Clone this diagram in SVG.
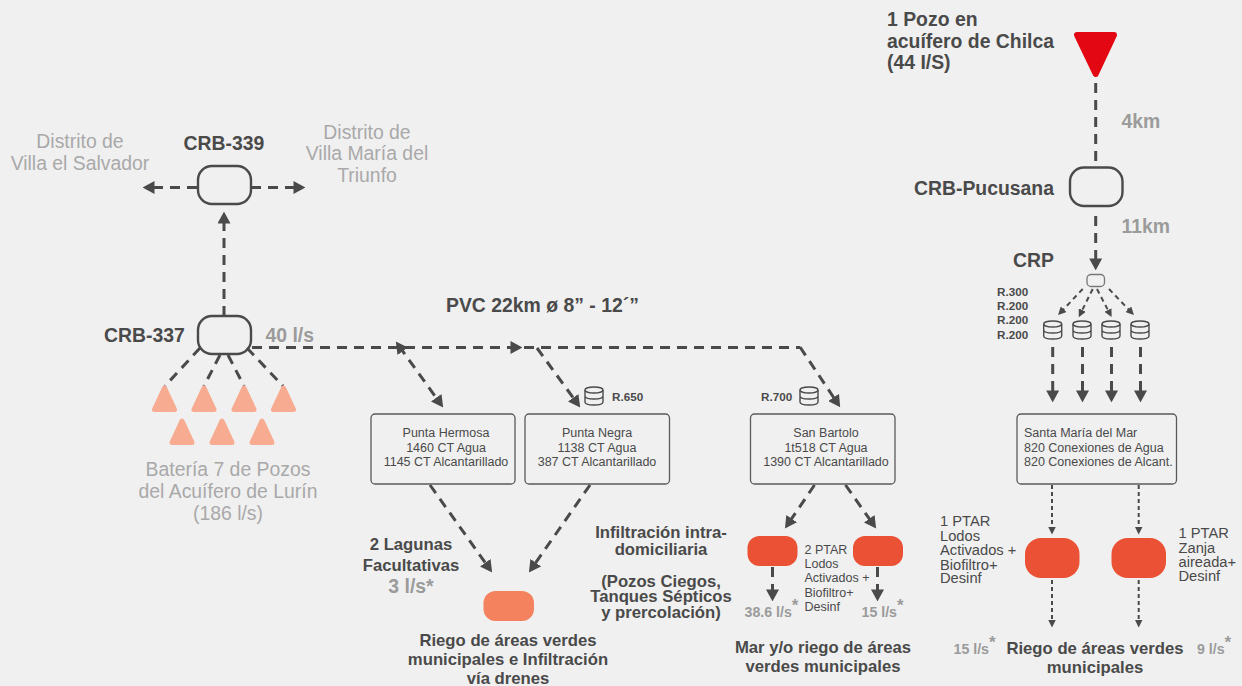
<svg xmlns="http://www.w3.org/2000/svg" width="1242" height="686" viewBox="0 0 1242 686">
<style>
text{font-family:"Liberation Sans",Arial,sans-serif;fill:#4a4a4a}
.b{font-weight:700}
.g{fill:#9b9b9b;font-weight:700}
.lg{fill:#a9a9a9}
.m{text-anchor:middle}
.s19{font-size:19.4px}.s17{font-size:16.7px}.s14{font-size:14.7px}.s13{font-size:14.2px}.s12{font-size:12.5px}.s10{font-size:11.7px}
.crb{fill:none;stroke:#4a4a4a;stroke-width:2.4}
.box{fill:none;stroke:#5a5a5a;stroke-width:1.3}
.c{fill:none;stroke:#4a4a4a}
.t3{stroke-width:3;stroke-dasharray:10 7;marker-end:url(#ah)}
.t3s{stroke-width:3;stroke-dasharray:10 7;marker-start:url(#ah);marker-end:url(#ah)}
.t3n{stroke-width:3;stroke-dasharray:10 7}
.t2{stroke-width:2;stroke-dasharray:5 4;marker-end:url(#as)}
.t1{stroke-width:2;stroke-dasharray:4 3;marker-end:url(#as)}
.cy{fill:none;stroke:#4a4a4a;stroke-width:1.4}
.tri{fill:#f7ac92;stroke:#f7ac92;stroke-width:5;stroke-linejoin:round}
</style>
<defs>
<marker id="ah" markerUnits="userSpaceOnUse" markerWidth="12" markerHeight="13" viewBox="0 0 11 12" refX="6" refY="6" orient="auto-start-reverse"><path d="M0,0L11,6L0,12z" fill="#4a4a4a"/></marker>
<marker id="as" markerUnits="userSpaceOnUse" markerWidth="8" markerHeight="8" viewBox="0 0 8 8" refX="4.5" refY="4" orient="auto"><path d="M0,0L8,4L0,8z" fill="#4a4a4a"/></marker>
<g id="cyl"><ellipse cx="0" cy="-6" rx="9" ry="3" class="cy"/><path class="cy" d="M-9,-6V6C-9,10 9,10 9,6V-6M-9,0C-9,4 9,4 9,0"/></g>
</defs>
<rect width="1242" height="686" fill="#f0f0f0"/>
<g id="connectors">
<path class="c t3" d="M197,187.5H148"/>
<path class="c t3" d="M251,187.5H300"/>
<path class="c t3" d="M224,316V217"/>
<path class="c t3n" d="M200,348L165,386"/>
<path class="c t3n" d="M220,355L204,386"/>
<path class="c t3n" d="M228,355L244,386"/>
<path class="c t3n" d="M247,348L283,386"/>
<path class="c t3n" d="M252,347.5H800"/>
<path class="c t3" d="M490,347.5H517"/>
<path class="c t3s" d="M399,346L440,403"/>
<path class="c t3" d="M537,348L577,403"/>
<path class="c t3" d="M800,347L837.2,402.8"/>
<path class="c t3" d="M430,485L489,568"/>
<path class="c t3" d="M590,485L532,568"/>
<path class="c t3" d="M814.5,485L788,524"/>
<path class="c t3" d="M845.5,485L873,524"/>
<path class="c t3" d="M772.5,567V596"/>
<path class="c t3" d="M877.5,567V596"/>
<path class="c t3n" d="M1095.7,83V165"/>
<path class="c t3" d="M1095.7,216V265"/>
<path class="c t2" d="M1082.7,289L1060.5,312.5"/>
<path class="c t2" d="M1092.7,289L1080.3,314"/>
<path class="c t2" d="M1097,289L1110,314"/>
<path class="c t2" d="M1109,289L1131.5,312.5"/>
<path class="c t3" d="M1052.7,347V397"/>
<path class="c t3" d="M1082.5,347V397"/>
<path class="c t3" d="M1111.5,347V397"/>
<path class="c t3" d="M1140.5,347V397"/>
<path class="c t1" d="M1052,485V531"/>
<path class="c t1" d="M1138.7,485V531"/>
<path class="c t1" d="M1052,580V624"/>
<path class="c t1" d="M1138.7,580V624"/>
</g>
<g id="crb339"><rect class="crb" x="198" y="166" width="53" height="38" rx="14"/><text class="b s19 m" x="224" y="150">CRB-339</text></g>
<g id="crb337"><rect class="crb" x="198" y="316" width="53" height="38" rx="14"/><text class="b s19" x="104" y="342">CRB-337</text><text class="g s19" x="265.5" y="342">40 l/s</text></g>
<g id="dist1"><text class="lg s19 m" x="80" y="148">Distrito de</text><text class="lg s19 m" x="80" y="170">Villa el Salvador</text></g>
<g id="dist2"><text class="lg s19 m" x="367" y="139">Distrito de</text><text class="lg s19 m" x="367" y="160">Villa María del</text><text class="lg s19 m" x="367" y="182">Triunfo</text></g>
<g id="pozos">
<path class="tri" d="M164.500,388L154.500,409.500H174.500z"/><path class="tri" d="M204,388L194,409.500H214z"/><path class="tri" d="M244,388L234,409.500H254z"/><path class="tri" d="M283.500,388L273.500,409.500H293.500z"/>
<path class="tri" d="M182,421L172,442.500H192z"/><path class="tri" d="M222,421L212,442.500H232z"/><path class="tri" d="M262,421L252,442.500H272z"/>
<text class="lg s19 m" x="228" y="476">Batería 7 de Pozos</text><text class="lg s19 m" x="228" y="498">del Acuífero de Lurín</text><text class="lg s19 m" x="228" y="520">(186 l/s)</text>
</g>
<g id="pvc"><text class="b s19" x="446" y="312">PVC 22km ø 8” - 12´”</text></g>
<g id="hermosa"><rect class="box" x="371" y="414" width="144" height="70" rx="4"/><text class="s12 m" x="446" y="437">Punta Hermosa</text><text class="s12 m" x="446" y="452">1460 CT Agua</text><text class="s12 m" x="446" y="466">1145 CT Alcantarillado</text></g>
<g id="negra"><rect class="box" x="525" y="414" width="144.500" height="70" rx="4"/><text class="s12 m" x="597" y="437">Punta Negra</text><text class="s12 m" x="597" y="452">1138 CT Agua</text><text class="s12 m" x="597" y="466">387 CT Alcantarillado</text></g>
<g id="bartolo"><rect class="box" x="750.500" y="414" width="144.500" height="70" rx="4"/><text class="s12 m" x="826" y="437">San Bartolo</text><text class="s12 m" x="826" y="452">1t518 CT Agua</text><text class="s12 m" x="826" y="466">1390 CT Alcantarillado</text></g>
<g id="r650"><use href="#cyl" x="594" y="396"/><text class="b s10" x="612" y="401">R.650</text></g>
<g id="r700"><use href="#cyl" x="809" y="396"/><text class="b s10" x="761" y="401">R.700</text></g>
<g id="laguna"><rect x="483.500" y="591" width="50.500" height="30" rx="12" fill="#f5825e"/><text class="b s17 m" x="411" y="550">2 Lagunas</text><text class="b s17 m" x="411" y="571">Facultativas</text><text class="g s19 m" x="411" y="593">3 l/s*</text>
<text class="b s17 m" x="508" y="646">Riego de áreas verdes</text><text class="b s17 m" x="508" y="665">municipales e Infiltración</text><text class="b s17 m" x="508" y="684">vía drenes</text></g>
<g id="infil"><text class="b s17 m"><tspan x="661" y="538">Infiltración intra-</tspan><tspan x="661" y="555">domiciliaria</tspan></text><text class="b s17 m"><tspan x="661" y="587">(Pozos Ciegos,</tspan><tspan x="661" y="602">Tanques Sépticos</tspan><tspan x="661" y="618">y prercolación)</tspan></text></g>
<g id="ptar2"><rect x="747.500" y="536" width="50" height="30" rx="12" fill="#eb5135"/><rect x="853" y="536" width="50" height="30" rx="12" fill="#eb5135"/>
<text class="s12" x="804.500" y="554">2 PTAR</text><text class="s12" x="804.500" y="568">Lodos</text><text class="s12" x="804.500" y="582">Activados +</text><text class="s12" x="804.500" y="597">Biofiltro+</text><text class="s12" x="804.500" y="611">Desinf</text>
<text class="g s13" x="744.500" y="617">38.6 l/s<tspan dy="-6" font-size="17">*</tspan></text><text class="g s13" x="861.500" y="617">15 l/s<tspan dy="-6" font-size="17">*</tspan></text>
<text class="b s17 m" x="823" y="653">Mar y/o riego de áreas</text><text class="b s17 m" x="823" y="672">verdes municipales</text></g>
<g id="pozo"><path d="M1077,35H1114L1095.700,74z" fill="#e30613" stroke="#e30613" stroke-width="6" stroke-linejoin="round"/>
<text class="b s19" x="887" y="26">1 Pozo en</text><text class="b s19" x="887" y="48">acuífero de Chilca</text><text class="b s19" x="887" y="69">(44 I/S)</text></g>
<g id="pucusana"><rect class="crb" x="1070" y="167.500" width="52.500" height="38.500" rx="14"/><text class="b s19" x="1054" y="194.500" text-anchor="end">CRB-Pucusana</text><text class="g s19" x="1121.500" y="128">4km</text><text class="g s19" x="1121.500" y="233">11km</text></g>
<g id="crp"><rect x="1087" y="274.500" width="17.500" height="12" rx="4" fill="none" stroke="#777" stroke-width="1.300"/><text class="b s19" x="1013" y="267">CRP</text>
<text class="b s10" x="997" y="296">R.300</text><text class="b s10" x="997" y="310">R.200</text><text class="b s10" x="997" y="324">R.200</text><text class="b s10" x="997" y="339">R.200</text>
<use href="#cyl" x="1052.700" y="330"/><use href="#cyl" x="1082" y="330"/><use href="#cyl" x="1111" y="330"/><use href="#cyl" x="1140" y="330"/></g>
<g id="santamaria"><rect class="box" x="1017" y="414" width="159.500" height="70" rx="4"/><text class="s12" x="1024" y="437">Santa María del Mar</text><text class="s12" x="1024" y="452">820 Conexiones de Agua</text><text class="s12" x="1024" y="466">820 Conexiones de Alcant.</text></g>
<g id="ptarl"><rect x="1025" y="538" width="54.500" height="40" rx="16" fill="#eb5135"/><text class="s14"><tspan x="940" y="526">1 PTAR</tspan><tspan x="940" y="541">Lodos</tspan><tspan x="940" y="555">Activados +</tspan><tspan x="940" y="570">Biofiltro+</tspan><tspan x="940" y="583">Desinf</tspan></text></g>
<g id="ptarr"><rect x="1111.500" y="538" width="54.500" height="40" rx="16" fill="#eb5135"/><text class="s14" x="1178.500" y="538">1 PTAR</text><text class="s14" x="1178.500" y="553">Zanja</text><text class="s14" x="1178.500" y="567">aireada+</text><text class="s14" x="1178.500" y="581">Desinf</text></g>
<g id="riego"><text class="g s13" x="953.500" y="654">15 l/s<tspan dy="-6" font-size="17">*</tspan></text><text class="g s13" x="1197" y="654">9 l/s<tspan dy="-6" font-size="17">*</tspan></text><text class="b s17 m" x="1095" y="653.500">Riego de áreas verdes</text><text class="b s17 m" x="1095" y="673">municipales</text></g>
</svg>
